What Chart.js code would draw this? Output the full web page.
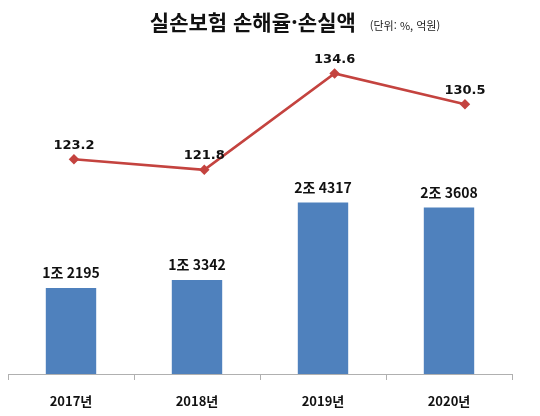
<!DOCTYPE html>
<html lang="ko">
<head>
<meta charset="utf-8">
<script src="https://cdn.jsdelivr.net/npm/chart.js@4"></script>
<style>
    body { margin: 0; background: #fff; }
    #wrap { position: relative; width: 540px; height: 416px; }
    #title {
        position: absolute; left: 0; top: 6px; width: 540px; text-align: center;
        font-family: "Noto Sans CJK KR", sans-serif; color: #111;
        white-space: nowrap; padding-left: 50px; box-sizing: border-box;
    }
    #title b { font-size: 21px; font-weight: 700; }
    #title span { font-size: 11px; margin-left: 14px; color: #222; }
</style>
</head>
<body>
<div id="wrap">
    <div id="title"><b>실손보험 손해율·손실액</b><span>(단위: %, 억원)</span></div>
    <canvas id="chart" width="540" height="416"></canvas>
</div>
<script>
const years = ["2017년", "2018년", "2019년", "2020년"];
const lossAmount = [12195, 13342, 24317, 23608];
const lossAmountText = ["1조 2195", "1조 3342", "2조 4317", "2조 3608"];
const lossRatio = [123.2, 121.8, 134.6, 130.5];

const valueLabels = {
    id: "valueLabels",
    afterDatasetsDraw(chart) {
        const ctx = chart.ctx;
        ctx.save();
        ctx.textAlign = "center";
        ctx.textBaseline = "middle";
        ctx.fillStyle = "#111";
        chart.getDatasetMeta(0).data.forEach((bar, i) => {
            ctx.font = "bold 14px 'Noto Sans CJK KR'";
            ctx.fillText(lossAmountText[i], bar.x, bar.y - 15);
        });
        chart.getDatasetMeta(1).data.forEach((pt, i) => {
            ctx.font = "bold 13px 'DejaVu Sans'";
            ctx.fillText(lossRatio[i].toFixed(1), pt.x, pt.y - 14);
        });
        ctx.restore();
    }
};

new Chart(document.getElementById("chart").getContext("2d"), {
    type: "bar",
    data: {
        labels: years,
        datasets: [
            {
                type: "bar",
                label: "손실액",
                data: lossAmount,
                backgroundColor: "#4f81bd",
                categoryPercentage: 1,
                barPercentage: 0.4,
                grouped: false,
                xAxisID: "x",
                yAxisID: "yAmt",
                order: 2
            },
            {
                type: "line",
                label: "손해율",
                data: lossRatio.map((v, i) => ({ x: i, y: v })),
                borderColor: "#c4433f",
                backgroundColor: "#c4433f",
                borderWidth: 2.5,
                pointStyle: "rectRot",
                pointRadius: 3.5,
                tension: 0,
                xAxisID: "xLine",
                yAxisID: "yRatio",
                order: 1
            }
        ]
    },
    options: {
        responsive: false,
        animation: false,
        layout: { padding: { left: 8, right: 28, top: 32, bottom: 7 } },
        plugins: { legend: { display: false }, tooltip: { enabled: false } },
        scales: {
            x: {
                offset: true,
                grid: { offset: true, drawOnChartArea: false, tickLength: 6, color: "#b0b0b0" },
                border: { color: "#b0b0b0" },
                ticks: { padding: 13, color: "#111", font: { family: "Noto Sans CJK KR", size: 13, weight: "bold" } },
                afterFit(scale) { scale.height = 35; }
            },
            xLine: { type: "linear", display: false, offset: false, grid: { offset: false }, min: -0.506, max: 3.361 },
            yAmt: { display: false, min: 0, max: 48500 },
            yRatio: { display: false, min: 94.7, max: 140.1 }
        }
    },
    plugins: [valueLabels]
});
</script>
</body>
</html>
